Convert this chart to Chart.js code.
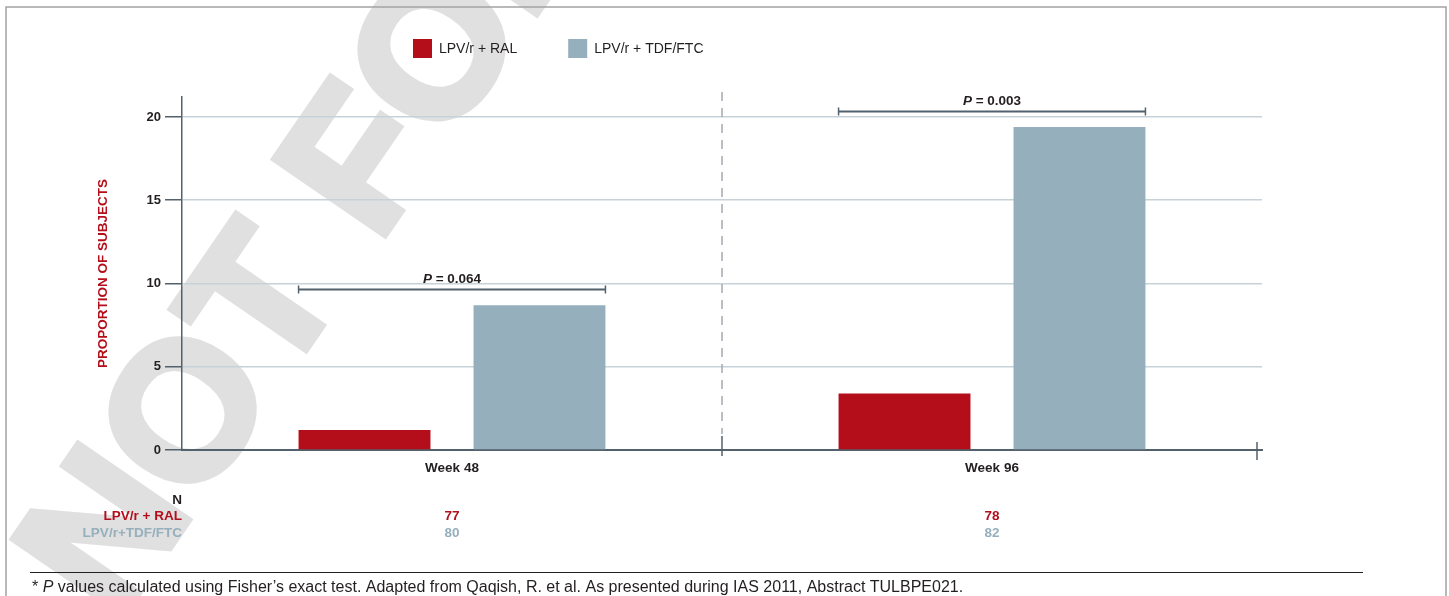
<!DOCTYPE html>
<html>
<head>
<meta charset="utf-8">
<title>Proportion of subjects – Week 48 / Week 96</title>
<script src="https://cdn.jsdelivr.net/npm/chart.js@4/dist/chart.umd.min.js"></script>
<style>
  html,body{margin:0;padding:0;background:#fff;}
  #wrap{width:1449px;height:596px;}
</style>
</head>
<body>
<div id="wrap"><canvas id="chart" width="1449" height="596"></canvas></div>
<script>
/* ---------- data ---------- */
const CATEGORIES   = ['Week 48', 'Week 96'];
const SERIES_NAMES = ['LPV/r + RAL', 'LPV/r + TDF/FTC'];
const RAL_PCT      = [1.2, 3.4];          // % of subjects
const TDF_PCT      = [8.7, 19.4];
const Y_TICKS      = [0, 5, 10, 15, 20];
const Y_MAX        = 21.2;                // axis line runs a bit past 20
const P_VALUES     = ['0.064', '0.003'];
const N_ROW_NAMES  = ['LPV/r + RAL', 'LPV/r+TDF/FTC'];
const N_RAL        = [77, 78];
const N_TDF        = [80, 82];
const FOOTNOTE     = ['* ', 'P', ' values calculated using Fisher\u2019s exact test. Adapted from Qaqish, R. et al. As presented during IAS 2011, Abstract TULBPE021.'];
const WATERMARK    = 'NOT FOR PROMOTIONAL USE';

/* ---------- look ---------- */
const FONT = '"Liberation Sans", Arial, Helvetica, sans-serif';
const COL  = {
  ral:'#b40e1b', tdf:'#95afbc', axis:'#52616b', grid:'#c6d2d8',
  text:'#231f20', wm:'#e0e0e0', frame:'#a3a3a3', dash:'#a2abb1'
};

/* ---------- helpers ---------- */
function hline(c, x0, x1, y){ c.beginPath(); c.moveTo(x0,y); c.lineTo(x1,y); c.stroke(); }
function vline(c, x, y0, y1){ c.beginPath(); c.moveTo(x,y0); c.lineTo(x,y1); c.stroke(); }

// draw [plain, italic, plain] pieces as one run, anchored left or centred
function richText(c, parts, x, y, size, bold, center){
  const w = bold ? 'bold ' : '';
  const fonts = [`${w}${size}px ${FONT}`, `italic ${w}${size}px ${FONT}`, `${w}${size}px ${FONT}`];
  const widths = parts.map((p,i)=>{ c.font = fonts[i]; return c.measureText(p).width; });
  let cx = center ? x - widths.reduce((a,b)=>a+b,0)/2 : x;
  c.textAlign = 'left';
  parts.forEach((p,i)=>{ c.font = fonts[i]; c.fillText(p, cx, y); cx += widths[i]; });
}

/* ---------- background: white, watermark, frame ---------- */
const backdrop = {
  id:'backdrop',
  beforeDraw(chart){
    const c = chart.ctx;
    c.save();
    c.fillStyle = '#fff';
    c.fillRect(0,0,chart.width,chart.height);

    /* watermark: centre of the first "O" pinned at (183,410) */
    c.font = `bold 193px ${FONT}`;
    const nW = c.measureText('N').width;
    const mo = c.measureText('O');
    const capMid = (mo.actualBoundingBoxAscent - mo.actualBoundingBoxDescent) / 2;
    c.translate(183,410);
    c.rotate(-55.5*Math.PI/180);
    c.fillStyle = COL.wm; c.strokeStyle = COL.wm;
    c.lineWidth = 8; c.lineJoin = 'miter';
    c.textBaseline = 'alphabetic';
    c.textAlign = 'left';
    c.fillText(WATERMARK, -(nW + mo.width/2), capMid);
    c.strokeText(WATERMARK, -(nW + mo.width/2), capMid);   // heavier stroke, like the original
    c.restore();

    c.save();
    c.strokeStyle = COL.frame; c.lineWidth = 1.5;
    c.beginPath(); c.moveTo(6,600); c.lineTo(6,7); c.lineTo(1446,7); c.lineTo(1446,600); c.stroke();
    c.restore();
  }
};

/* ---------- overlay: divider, brackets, legend, N table, footnote ---------- */
const overlay = {
  id:'overlay',
  afterDraw(chart){
    const c  = chart.ctx;
    const xs = chart.scales.x;
    const area = chart.chartArea;
    c.save();

    /* divider between the two time points */
    const mid = (xs.getPixelForValue(0) + xs.getPixelForValue(1)) / 2;
    c.strokeStyle = COL.dash; c.lineWidth = 1.5; c.setLineDash([9,7]);
    vline(c, mid, area.top - 5, area.bottom - 16);
    c.setLineDash([]);
    c.strokeStyle = COL.axis;
    vline(c, mid, area.bottom - 14, area.bottom + 6);
    vline(c, area.right - 5, area.bottom - 8, area.bottom + 10);

    /* P-value brackets */
    const m0 = chart.getDatasetMeta(0), m1 = chart.getDatasetMeta(1);
    P_VALUES.forEach((p,i)=>{
      const a = m0.data[i].getProps(['x','y','width'], true);
      const b = m1.data[i].getProps(['x','y','width'], true);
      const x0 = a.x - a.width/2, x1 = b.x + b.width/2;
      const yb = Math.round(Math.min(a.y, b.y) - 16) + 0.5;
      c.strokeStyle = COL.axis; c.lineWidth = 2;
      hline(c, x0, x1, yb);
      c.lineWidth = 1.5;
      vline(c, x0, yb-4, yb+4);
      vline(c, x1, yb-4, yb+4);
      c.fillStyle = COL.text; c.textBaseline = 'middle';
      richText(c, ['', 'P', ' = ' + p], (x0+x1)/2, yb - 10, 13.5, true, true);
    });

    /* legend (from the datasets) */
    let lx = 413;
    c.textBaseline = 'middle'; c.textAlign = 'left';
    chart.data.datasets.forEach(ds=>{
      c.fillStyle = ds.backgroundColor;
      c.fillRect(lx, 39, 19, 19);
      c.font = `14px ${FONT}`;
      c.fillStyle = COL.text;
      c.fillText(ds.label, lx + 26, 49);
      lx += 26 + c.measureText(ds.label).width + 51;
    });

    /* N table */
    c.font = `bold 13.5px ${FONT}`;
    c.textAlign = 'right';
    c.fillStyle = COL.text; c.fillText('N', area.left, 500);
    c.fillStyle = COL.ral;  c.fillText(N_ROW_NAMES[0], area.left, 516);
    c.fillStyle = COL.tdf;  c.fillText(N_ROW_NAMES[1], area.left, 533);
    c.textAlign = 'center';
    CATEGORIES.forEach((_,i)=>{
      const px = xs.getPixelForValue(i);
      c.fillStyle = COL.ral; c.fillText(String(N_RAL[i]), px, 516);
      c.fillStyle = COL.tdf; c.fillText(String(N_TDF[i]), px, 533);
    });

    /* footnote */
    c.strokeStyle = COL.text; c.lineWidth = 1.2;
    hline(c, 30, 1363, 572.5);
    c.fillStyle = COL.text; c.textBaseline = 'middle';
    richText(c, FOOTNOTE, 32, 588, 16, false, false);

    c.restore();
  }
};

/* ---------- chart ---------- */
new Chart(document.getElementById('chart'), {
  type:'bar',
  data:{
    labels: CATEGORIES,
    datasets:[
      { label:SERIES_NAMES[0], data:RAL_PCT, backgroundColor:COL.ral, borderWidth:0,
        categoryPercentage:0.648, barPercentage:0.754 },
      { label:SERIES_NAMES[1], data:TDF_PCT, backgroundColor:COL.tdf, borderWidth:0,
        categoryPercentage:0.648, barPercentage:0.754 }
    ]
  },
  options:{
    responsive:false,
    animation:false,
    events:[],
    layout:{ padding:{ left:90, top:97, right:187, bottom:106 } },
    plugins:{ legend:{ display:false }, tooltip:{ enabled:false } },
    scales:{
      x:{
        grid:{ display:false, drawTicks:false },
        border:{ display:true, color:COL.axis, width:2 },
        ticks:{ padding:10, color:COL.text, font:{ family:FONT, size:13.5, weight:'bold' } },
        afterFit: s => { s.height = 40; }
      },
      y:{
        min:0, max:Y_MAX,
        afterBuildTicks: s => { s.ticks = Y_TICKS.map(v => ({ value:v })); },
        grid:{ color:COL.grid, lineWidth:1.5, tickColor:COL.axis, tickLength:17, tickWidth:1.5 },
        border:{ display:true, color:COL.axis, width:1.5 },
        ticks:{ padding:4, color:COL.text, font:{ family:FONT, size:13, weight:'bold' } },
        title:{ display:true, text:'PROPORTION OF SUBJECTS', color:COL.ral,
                padding:{ top:5, bottom:0 }, font:{ family:FONT, size:13.5, weight:'bold' } },
        afterFit: s => { s.width = 92; }
      }
    }
  },
  plugins:[backdrop, overlay]
});
</script>
</body>
</html>
